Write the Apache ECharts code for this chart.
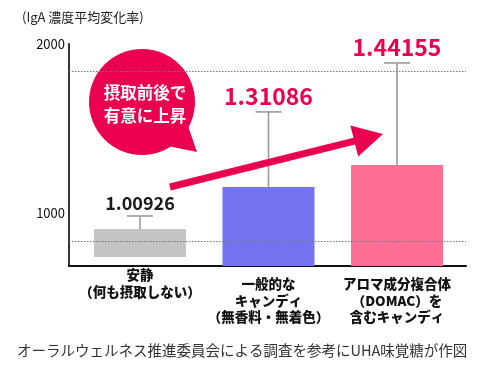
<!DOCTYPE html>
<html><head><meta charset="utf-8">
<script src="https://cdn.jsdelivr.net/npm/echarts@6/dist/echarts.min.js"></script>
<style>html,body{margin:0;padding:0;background:#fff}#c{width:500px;height:380px}</style>
</head><body><div id="c"></div>
<script>
// ---- data ----
const categories = [
  ['安静', '（何も摂取しない）'],
  ['一般的な', 'キャンディ', '（無香料・無着色）'],
  ['アロマ成分複合体', '（DOMAC）を', '含むキャンディ']
];
const barTop = [905, 1154, 1284];
const barBase = [740, null, null];
const errorTop = [982, 1598, 1888];
const valueLabels = ['1.00926', '1.31086', '1.44155'];
const yTicks = [1000, 2000];
const refLines = [1840, 834];
const yAxisTitle = '(IgA 濃度平均変化率)';
const footnote = 'オーラルウェルネス推進委員会による調査を参考にUHA味覚糖が作図';
const bubbleLines = ['摂取前後で', '有意に上昇'];

// ---- styles ----
const FONT = '"Noto Sans CJK JP", "Noto Sans", sans-serif';
const barColors = ['#c4c4c4', '#7474f0', '#ff6e96'];
const labelColors = ['#1a1a1a', '#eb0050', '#eb0050'];
const labelSizes = [18, 23, 23];
const labelGap = [13, 16, 16];
const PINK = '#eb0050';
const yMin = 686, yMax = 2000;

const chart = echarts.init(document.getElementById('c'), null, {renderer: 'canvas'});

function catFormatter(v) {
  const idx = Math.round(v);
  const lines = categories[idx];
  return lines ? lines.join('\n') : '';
}

const xBase = {
  type: 'value', min: -0.5525, max: 2.537, gridIndex: 0, position: 'bottom',
  splitLine: {show: false}, axisTick: {show: false}
};

const option = {
  animation: false,
  title: {
    text: yAxisTitle, left: 17, top: 6,
    textStyle: {fontFamily: FONT, fontSize: 13, fontWeight: 'normal', color: '#222'}
  },
  grid: {left: 69, right: 34, top: 44, bottom: 114},
  xAxis: [
    Object.assign({}, xBase, {
      axisLine: {show: true, onZero: false, lineStyle: {color: '#111', width: 2}},
      axisLabel: {
        customValues: [1, 2], margin: 10, formatter: catFormatter,
        fontFamily: FONT, fontSize: 13.5, fontWeight: 900, color: '#111', lineHeight: 16.5
      }
    }),
    Object.assign({}, xBase, {
      axisLine: {show: false, onZero: false},
      axisLabel: {
        customValues: [0], margin: 1, formatter: catFormatter,
        fontFamily: FONT, fontSize: 13.5, fontWeight: 900, color: '#111', lineHeight: 16.5
      }
    })
  ],
  yAxis: {
    type: 'value', min: yMin, max: yMax,
    axisLine: {show: true, onZero: false, lineStyle: {color: '#333', width: 2}},
    axisTick: {show: false},
    splitLine: {show: false},
    axisLabel: {
      customValues: yTicks, margin: 4, fontFamily: FONT, fontSize: 13, color: '#111',
      formatter: v => String(v)
    }
  },
  series: [
    {
      type: 'line', data: [], z: 1, silent: true,
      markLine: {
        symbol: 'none', silent: true, label: {show: false},
        lineStyle: {type: [1.5, 1.5], color: '#777', width: 1},
        data: refLines.map(v => ({yAxis: v}))
      }
    },
    {
      type: 'custom', z: 2,
      data: categories.map((c, i) => [i, barTop[i], barBase[i] == null ? yMin : barBase[i]]),
      renderItem(params, api) {
        const i = api.value(0);
        const t = api.coord([i, api.value(1)]);
        const b = api.coord([i, api.value(2)]);
        const w = api.size([1, 0])[0] * 0.716;
        return {
          type: 'rect',
          shape: {x: t[0] - w / 2, y: t[1], width: w, height: b[1] - t[1]},
          style: {fill: barColors[i]}
        };
      }
    },
    {
      type: 'custom', z: 3,
      data: categories.map((c, i) => [i, barTop[i], errorTop[i]]),
      renderItem(params, api) {
        const i = api.value(0);
        const t = api.coord([i, api.value(1)]);
        const e = api.coord([i, api.value(2)]);
        const cw = 13;
        const st = {stroke: '#999', lineWidth: 1.6};
        return {
          type: 'group',
          children: [
            {type: 'line', shape: {x1: t[0], y1: t[1], x2: e[0], y2: e[1]}, style: st},
            {type: 'line', shape: {x1: e[0] - cw, y1: e[1], x2: e[0] + cw, y2: e[1]}, style: st},
            {
              type: 'text',
              style: {
                x: e[0], y: e[1] - labelGap[i], text: valueLabels[i],
                align: 'center', verticalAlign: 'middle',
                font: 'bold ' + labelSizes[i] + 'px ' + FONT, fill: labelColors[i]
              }
            }
          ]
        };
      }
    }
  ],
  graphic: [
    {
      type: 'group', z: 10,
      children: [
        {type: 'circle', shape: {cx: 142, cy: 102, r: 53}, style: {fill: PINK}},
        {type: 'polygon', shape: {points: [[168, 146], [197, 152], [188, 126]]}, style: {fill: PINK}},
        {
          type: 'text',
          style: {
            x: 145, y: 104, text: bubbleLines.join('\n'), align: 'center', verticalAlign: 'middle',
            font: 'bold 16.5px ' + FONT, fill: '#fff', lineHeight: 23
          }
        }
      ]
    },
    {
      type: 'polygon', z: 10,
      shape: {points: [[169.2, 183.6], [170.8, 190.4], [355.1, 144.5], [358.2, 156.6], [383, 134], [350.4, 125.6], [353.5, 137.7]]},
      style: {fill: PINK}
    },
    {
      type: 'text', z: 10, left: 17, top: 343,
      style: {text: footnote, font: '14.5px ' + FONT, fill: '#333'}
    }
  ]
};
chart.setOption(option);
</script>
</body></html>
